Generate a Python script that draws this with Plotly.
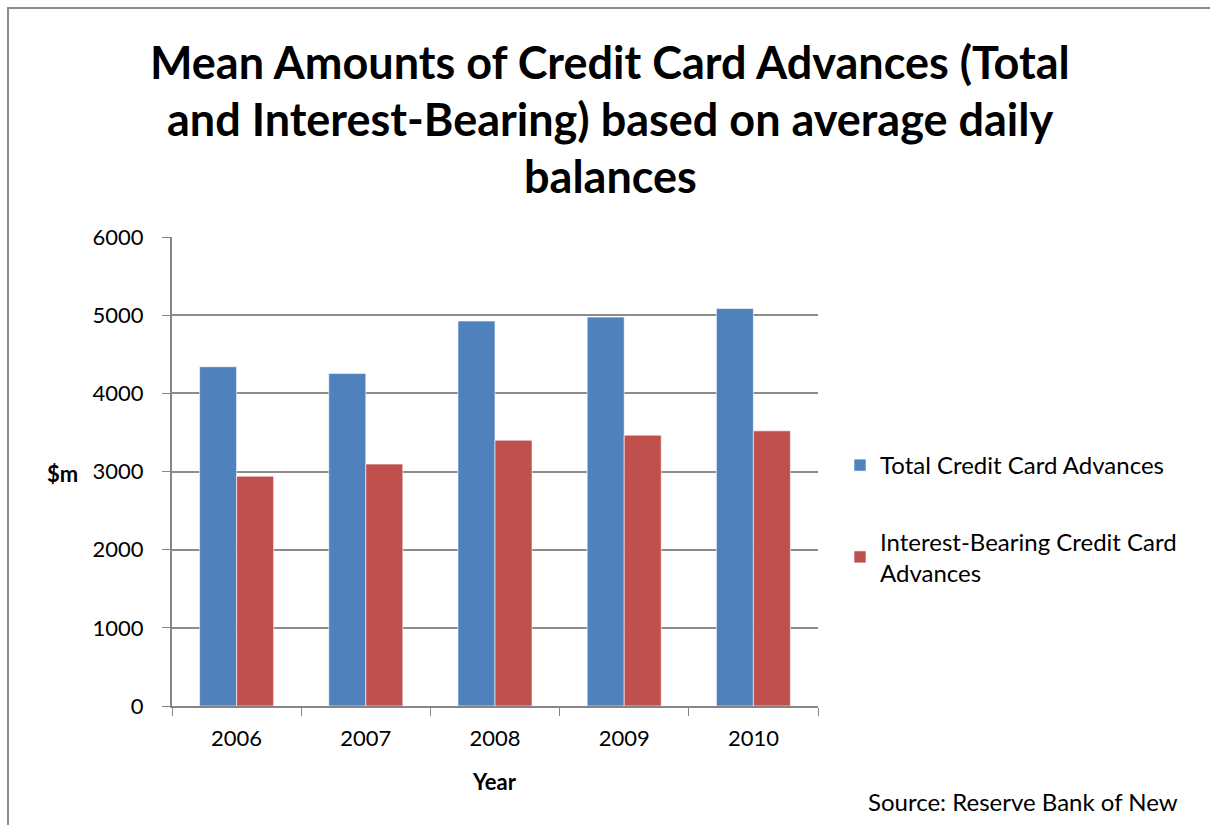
import plotly.graph_objects as go

# Mean credit card advances, $m (average daily balances)
years = ["2006", "2007", "2008", "2009", "2010"]
total_advances = [4340, 4255, 4925, 4975, 5085]
interest_bearing = [2940, 3095, 3400, 3465, 3520]

series_names = ["Total Credit Card Advances", "Interest-Bearing Credit Card<br>Advances"]
series_colors = ["#4F81BD", "#C0504D"]

title_lines = [
    "Mean Amounts of Credit Card Advances (Total",
    "and Interest-Bearing) based on average daily",
    "balances",
]

FONT = "Lato, Calibri, Carlito, sans-serif"
W, H = 1210, 825
L, R, T, B = 172, 392, 237, 119
plot_w = W - L - R
plot_h = H - T - B


def px_to_paper_x(px):
    return (px - L) / plot_w


def px_to_paper_y(py):
    return (H - B - py) / plot_h


fig = go.Figure()
for i, (name, vals) in enumerate(zip(series_names, [total_advances, interest_bearing])):
    fig.add_trace(go.Bar(
        x=years, y=vals, name=name,
        marker=dict(color=series_colors[i], line=dict(color="rgba(255,255,255,0.6)", width=1)),
        legendgroup=f"g{i}",
    ))

fig.update_layout(
    width=W, height=H,
    margin=dict(l=L, r=R, t=T, b=B),
    paper_bgcolor="white", plot_bgcolor="white",
    barmode="group", bargap=0.427, bargroupgap=0,
    font=dict(family=FONT, size=22, color="black"),
    xaxis=dict(
        type="category", showline=True, linecolor="#868686", linewidth=2,
        ticks="outside", tickson="boundaries", ticklen=8, tickcolor="#868686", tickwidth=1,
        showgrid=False, tickfont=dict(size=22), ticklabelstandoff=12,
    ),
    yaxis=dict(
        range=[0, 6000], dtick=1000, showline=True, linecolor="#868686", linewidth=2,
        ticks="outside", ticklen=8, tickcolor="#868686", showgrid=True,
        gridcolor="#8c8c8c", gridwidth=2, zeroline=False, tickfont=dict(size=22),
        ticklabelstandoff=14,
    ),
    legend=dict(
        x=px_to_paper_x(840), xanchor="left", y=px_to_paper_y(443), yanchor="top",
        font=dict(size=24), tracegroupgap=42, traceorder="grouped",
        itemwidth=30, bgcolor="rgba(0,0,0,0)",
    ),
    showlegend=True,
)

# Three-line bold title, each line centred over the chart
for line, cy in zip(title_lines, [62, 119, 176]):
    fig.add_annotation(text=f"<b>{line}</b>", x=px_to_paper_x(610), y=px_to_paper_y(cy),
                       xref="paper", yref="paper", xanchor="center", yanchor="middle",
                       showarrow=False, font=dict(size=45))

fig.add_annotation(text="<b>$m</b>", x=px_to_paper_x(62), y=px_to_paper_y(473),
                   xref="paper", yref="paper", xanchor="center", yanchor="middle",
                   showarrow=False, font=dict(size=22))
fig.add_annotation(text="<b>Year</b>", x=px_to_paper_x(494), y=px_to_paper_y(781),
                   xref="paper", yref="paper", xanchor="center", yanchor="middle",
                   showarrow=False, font=dict(size=22))
fig.add_annotation(text="Source: Reserve Bank of New", x=px_to_paper_x(866), y=px_to_paper_y(801),
                   xref="paper", yref="paper", xanchor="left", yanchor="middle",
                   showarrow=False, font=dict(size=24))

# Chart frame
fig.add_shape(type="rect", xref="paper", yref="paper",
              x0=px_to_paper_x(8), x1=px_to_paper_x(1220),
              y0=px_to_paper_y(835), y1=px_to_paper_y(8),
              line=dict(color="#8c8c8c", width=2), fillcolor="rgba(0,0,0,0)", layer="below")

fig.write_html("out.html")
